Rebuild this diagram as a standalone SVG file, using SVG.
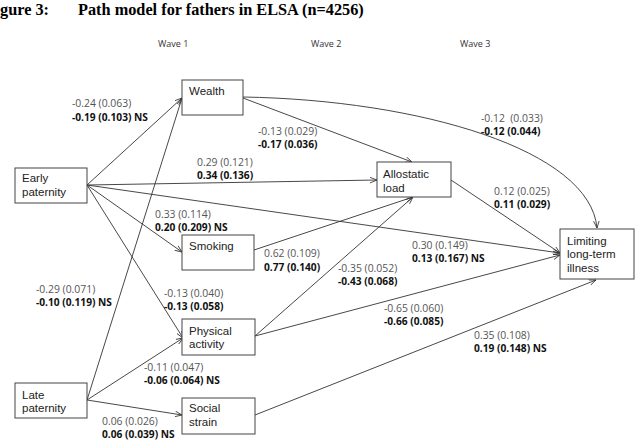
<svg xmlns="http://www.w3.org/2000/svg" width="644" height="446" viewBox="0 0 644 446">
<style>
.t{font-family:"Liberation Serif","Times New Roman",serif;font-weight:bold;font-size:16.3px;fill:#000}
.w{font-family:"Open Sans","DejaVu Sans",sans-serif;font-size:9px;fill:#333}
.n{font-family:"Liberation Sans",Arial,sans-serif;font-size:11.5px;fill:#222}
.box{fill:#fff;stroke:#444;stroke-width:1}
.c{font-family:"Open Sans","DejaVu Sans",sans-serif;font-size:10.4px;fill:#555}
.b{font-family:"Open Sans","DejaVu Sans",sans-serif;font-size:10.2px;font-weight:bold;fill:#111}
.e{fill:none;stroke:#333;stroke-width:0.9;marker-end:url(#a)}
</style>
<defs>
<marker id="a" viewBox="0 0 10 10" refX="10" refY="5" markerWidth="7" markerHeight="7" orient="auto" markerUnits="userSpaceOnUse">
<path d="M0,1 L10,5 L0,9" fill="none" stroke="#333" stroke-width="1.2"/>
</marker>
</defs>
<rect width="644" height="446" fill="#fff"/>
<text class="t" x="0" y="15">gure 3:</text>
<text class="t" x="78" y="15">Path model for fathers in ELSA (n=4256)</text>
<text class="w" x="158" y="47">Wave 1</text>
<text class="w" x="311" y="47">Wave 2</text>
<text class="w" x="460" y="47">Wave 3</text>

<g id="connectors">
<path class="e" d="M87,185 L182,98"/>
<path class="e" d="M87,185 L377,180"/>
<path class="e" d="M87,185 L560,253"/>
<path class="e" d="M87,185 L182,252"/>
<path class="e" d="M87,185 L183,338"/>
<path class="e" d="M87,400 L182,98"/>
<path class="e" d="M87,400 L183,338"/>
<path class="e" d="M87,400 L182,415"/>
<path class="e" d="M243,98 L412,162"/>
<path class="e" d="M243,97 C420,100 590,150 597,228"/>
<path class="e" d="M451,180 L560,253"/>
<path class="e" d="M254,250 L413,197"/>
<path class="e" d="M255,336 L413,197"/>
<path class="e" d="M255,336 L560,255"/>
<path class="e" d="M255,415 L596,280"/>
</g>

<g id="wealth"><rect class="box" x="182" y="80" width="61" height="35"/><text class="n" x="189" y="95">Wealth</text></g>
<g id="early"><rect class="box" x="15" y="168" width="72" height="35"/><text class="n" x="22" y="182">Early</text><text class="n" x="22" y="196">paternity</text></g>
<g id="smoking"><rect class="box" x="182" y="235" width="72" height="35"/><text class="n" x="189" y="250">Smoking</text></g>
<g id="physical"><rect class="box" x="182" y="319" width="73" height="36"/><text class="n" x="189" y="335">Physical</text><text class="n" x="189" y="348">activity</text></g>
<g id="social"><rect class="box" x="182" y="398" width="73" height="36"/><text class="n" x="189" y="412">Social</text><text class="n" x="189" y="426">strain</text></g>
<g id="late"><rect class="box" x="15" y="383" width="72" height="35"/><text class="n" x="22" y="399">Late</text><text class="n" x="22" y="412">paternity</text></g>
<g id="allostatic"><rect class="box" x="377" y="162" width="74" height="35"/><text class="n" x="383" y="178">Allostatic</text><text class="n" x="383" y="192">load</text></g>
<g id="limiting"><rect class="box" x="560" y="229" width="74" height="50"/><text class="n" x="567" y="245">Limiting</text><text class="n" x="567" y="258">long-term</text><text class="n" x="567" y="272">illness</text></g>

<g id="labels">
<text class="c" x="72" y="107">-0.24 (0.063)</text><text class="b" x="72" y="121">-0.19 (0.103) NS</text>
<text class="c" x="258" y="135">-0.13 (0.029)</text><text class="b" x="258" y="148">-0.17 (0.036)</text>
<text class="c" x="197" y="166">0.29 (0.121)</text><text class="b" x="197" y="179">0.34 (0.136)</text>
<text class="c" x="155" y="218">0.33 (0.114)</text><text class="b" x="155" y="231">0.20 (0.209) NS</text>
<text class="c" x="264" y="257">0.62 (0.109)</text><text class="b" x="264" y="271">0.77 (0.140)</text>
<text class="c" x="36" y="293">-0.29 (0.071)</text><text class="b" x="36" y="306">-0.10 (0.119) NS</text>
<text class="c" x="164" y="297">-0.13 (0.040)</text><text class="b" x="164" y="310">-0.13 (0.058)</text>
<text class="c" x="144" y="371">-0.11 (0.047)</text><text class="b" x="144" y="384">-0.06 (0.064) NS</text>
<text class="c" x="102" y="425">0.06 (0.026)</text><text class="b" x="102" y="438">0.06 (0.039) NS</text>
<text class="c" x="481" y="122" xml:space="preserve">-0.12  (0.033)</text><text class="b" x="481" y="135">-0.12 (0.044)</text>
<text class="c" x="494" y="195">0.12 (0.025)</text><text class="b" x="494" y="208">0.11 (0.029)</text>
<text class="c" x="412" y="249">0.30 (0.149)</text><text class="b" x="412" y="262">0.13 (0.167) NS</text>
<text class="c" x="338" y="272">-0.35 (0.052)</text><text class="b" x="338" y="285">-0.43 (0.068)</text>
<text class="c" x="384" y="312">-0.65 (0.060)</text><text class="b" x="384" y="325">-0.66 (0.085)</text>
<text class="c" x="474" y="339">0.35 (0.108)</text><text class="b" x="474" y="352">0.19 (0.148) NS</text>
</g>
</svg>
